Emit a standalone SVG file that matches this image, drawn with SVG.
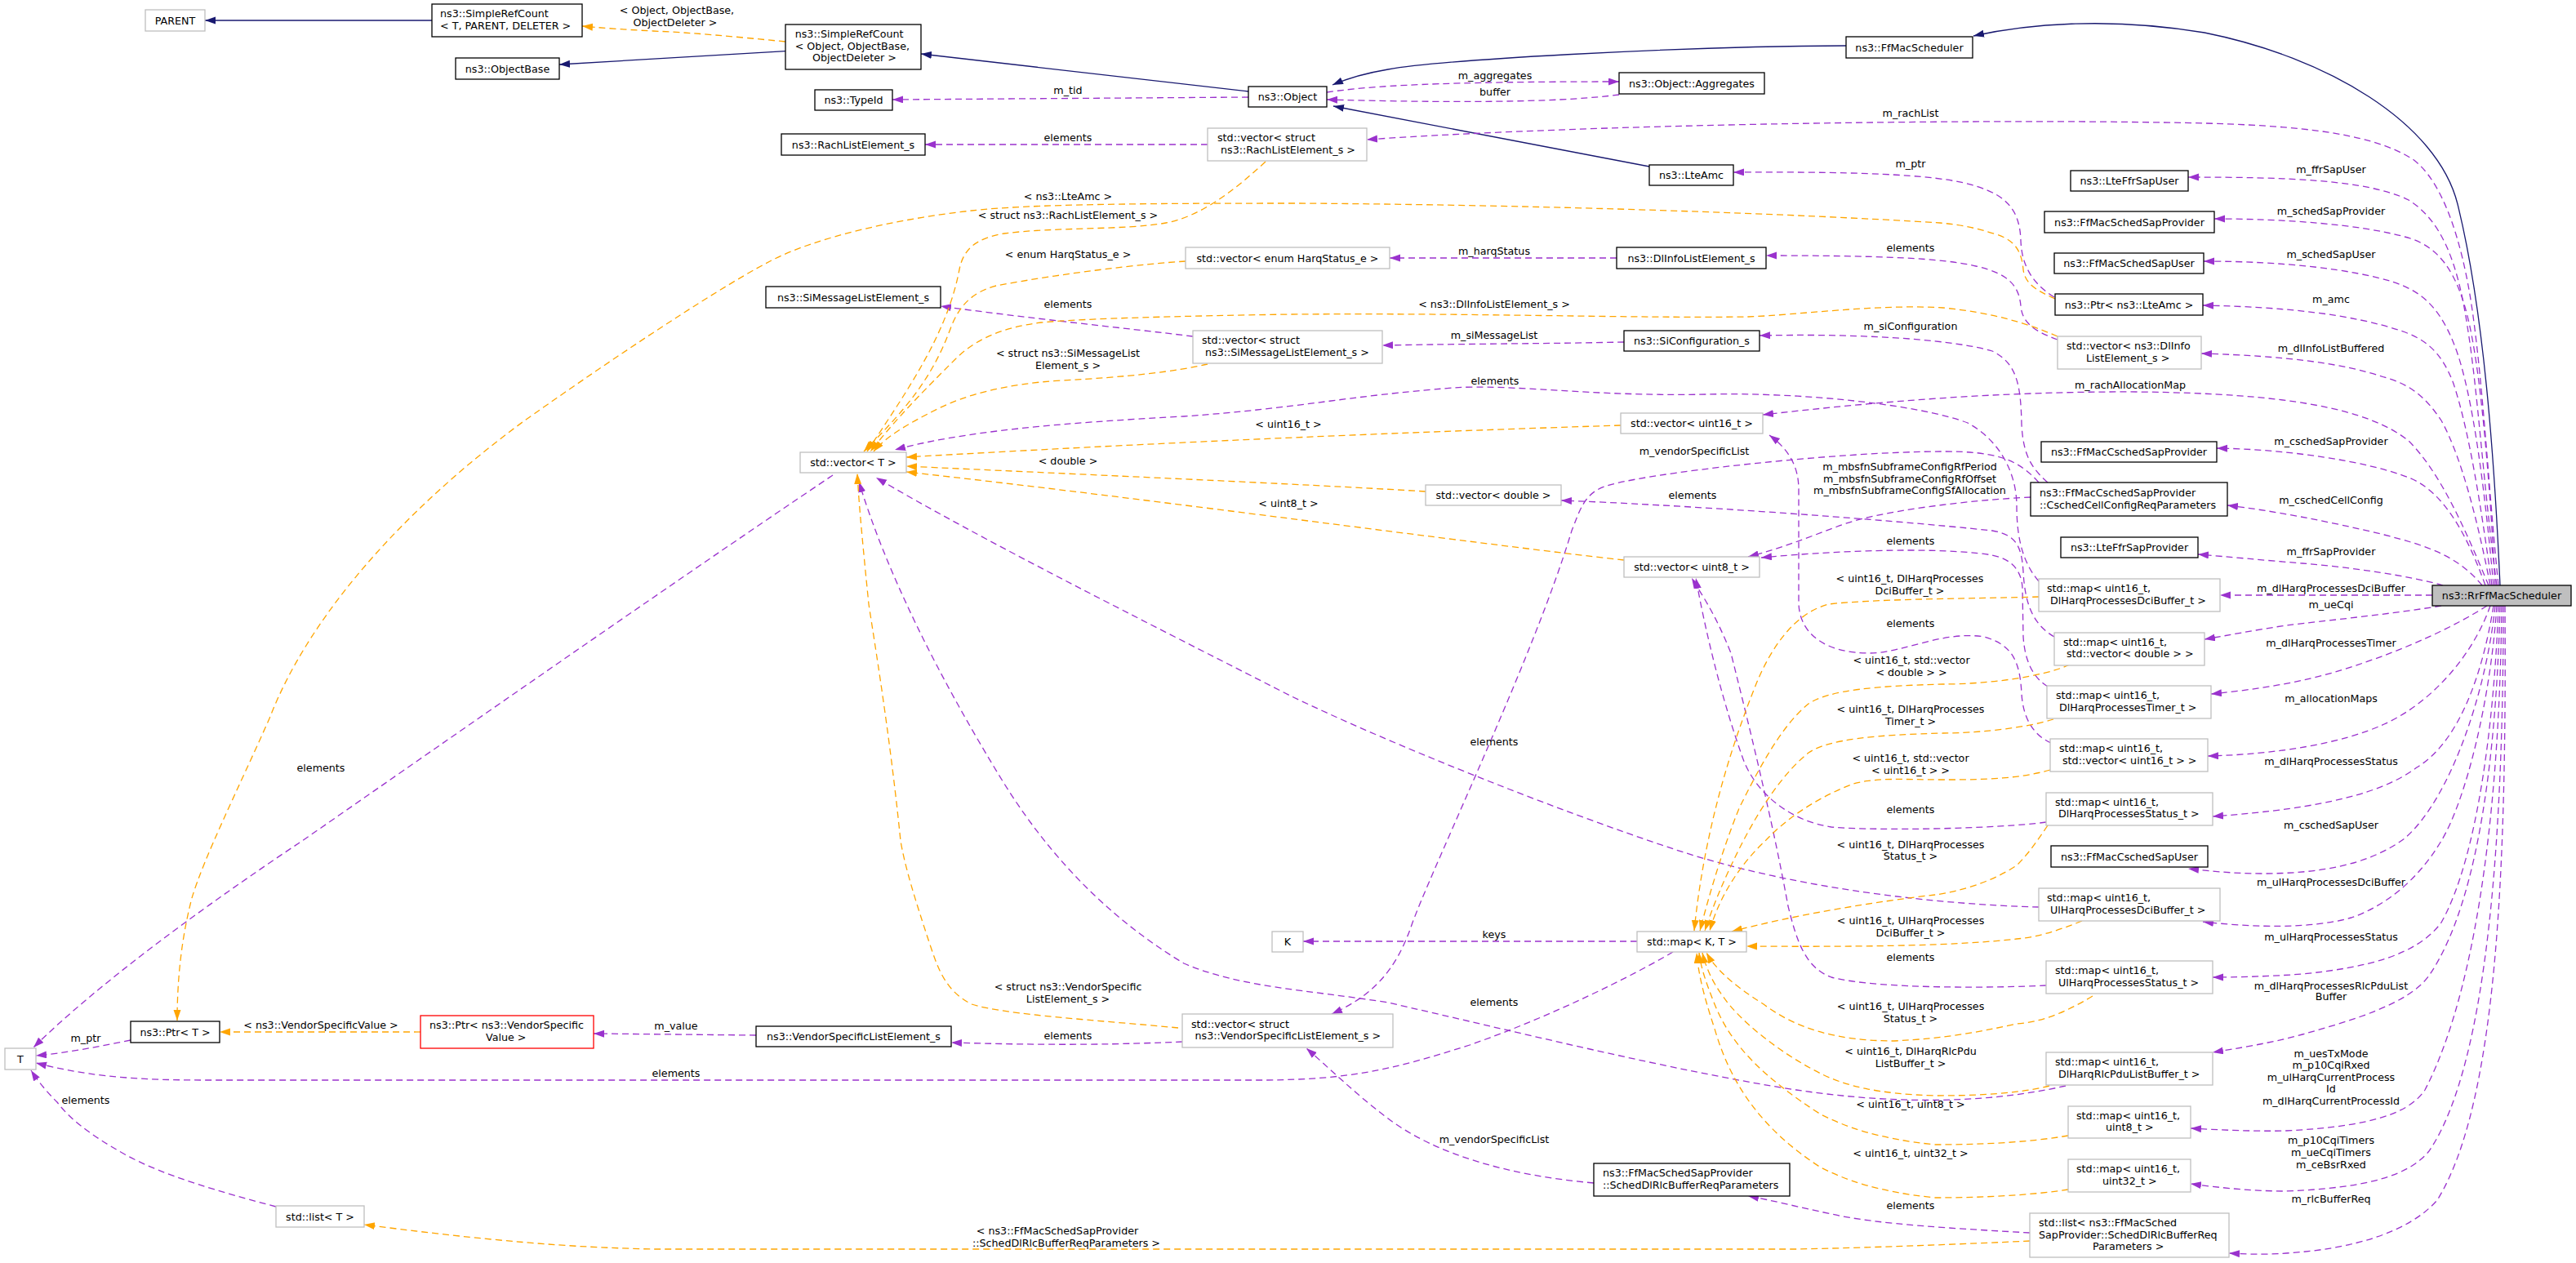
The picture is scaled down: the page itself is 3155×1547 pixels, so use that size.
<svg xmlns="http://www.w3.org/2000/svg" width="3155" height="1547" viewBox="0 0 3155 1547">
<style>
text{font-family:"DejaVu Sans",sans-serif;font-size:12.7px;fill:#000}
.c{text-anchor:middle}
.nb{fill:#fff;stroke:#000;stroke-width:1.3}
.ng{fill:#fff;stroke:#bfbfbf;stroke-width:1.3}
.nr{fill:#fff;stroke:#ff0000;stroke-width:1.3}
.nm{fill:#bfbfbf;stroke:#000;stroke-width:1.3}
.ei{fill:none;stroke:#191970;stroke-width:1.3;marker-end:url(#aN)}
.eu{fill:none;stroke:#9a32cd;stroke-width:1.3;stroke-dasharray:8,5;marker-end:url(#aP)}
.et{fill:none;stroke:#ffa500;stroke-width:1.3;stroke-dasharray:8,5;marker-end:url(#aO)}
</style>
<defs>
<marker id="aN" markerWidth="14" markerHeight="10" refX="13" refY="4.5" orient="auto" markerUnits="userSpaceOnUse"><path d="M0,0 L13,4.5 L0,9 z" fill="#191970"/></marker>
<marker id="aP" markerWidth="14" markerHeight="10" refX="13" refY="4.5" orient="auto" markerUnits="userSpaceOnUse"><path d="M0,0 L13,4.5 L0,9 z" fill="#9a32cd"/></marker>
<marker id="aO" markerWidth="14" markerHeight="10" refX="13" refY="4.5" orient="auto" markerUnits="userSpaceOnUse"><path d="M0,0 L13,4.5 L0,9 z" fill="#ffa500"/></marker>
</defs>
<rect width="3155" height="1547" fill="#fff"/>
<g id="edges">
<path class="ei" d="M529,25 L251,25"/>
<path class="ei" d="M962,62.7 L685,79"/>
<path class="ei" d="M1529,112 L1128,66"/>
<path class="ei" d="M2261,56 C2040,57 1760,74 1700,85 C1670,90 1648,97 1632,104"/>
<path class="ei" d="M2020,204 L1633,130"/>
<path class="ei" d="M3062,717 C3055,560 3042,380 3010,250 C2985,150 2850,70 2700,40 C2580,20 2480,30 2417,44"/>
<path class="eu" d="M1529,119 L1093,122"/>
<text class="c" x="1308" y="114.5">m_tid</text>
<path class="eu" d="M1625,113 C1680,105 1760,100 1983,100"/>
<text class="c" x="1831" y="97.2">m_aggregates</text>
<path class="eu" d="M1983,116 C1920,124 1820,127 1625,122"/>
<text class="c" x="1831" y="116.8">buffer</text>
<path class="eu" d="M1479,177 L1133,177"/>
<text class="c" x="1308" y="173.2">elements</text>
<path class="eu" d="M3060,717 C3048,600 3042,480 3028,380 C3015,290 2990,220 2955,195 C2900,160 2800,152 2650,150 C2400,146 1950,152 1674,171"/>
<text class="c" x="2340" y="142.8">m_rachList</text>
<path class="eu" d="M2516,364 C2485,345 2476,320 2475,295 C2474,260 2460,240 2420,228 C2380,215 2300,210 2123,211"/>
<text class="c" x="2340" y="204.5">m_ptr</text>
<path class="eu" d="M2520,416 C2490,405 2477,395 2475,375 C2473,350 2460,335 2420,326 C2380,316 2300,313 2163,313"/>
<text class="c" x="2340" y="307.5">elements</text>
<path class="eu" d="M2508,591 C2490,575 2478,560 2476,520 C2475,470 2470,445 2440,430 C2400,418 2300,408 2155,411"/>
<text class="c" x="2340" y="403.8">m_siConfiguration</text>
<path class="eu" d="M1989,419 C1900,421 1800,421 1693,423"/>
<text class="c" x="1830" y="415.2">m_siMessageList</text>
<path class="eu" d="M1980,316 L1702,316"/>
<text class="c" x="1830" y="311.8">m_harqStatus</text>
<path class="eu" d="M1461,412 C1380,402 1260,390 1152,375"/>
<text class="c" x="1308" y="377.2">elements</text>
<path class="eu" d="M3058,717 C3042,600 3035,480 3022,400 C3010,320 2990,270 2950,245 C2900,220 2800,217 2680,217"/>
<text class="c" x="2855" y="211.8">m_ffrSapUser</text>
<path class="eu" d="M3056,717 C3050,600 3040,470 3025,400 C3010,330 2985,300 2945,290 C2890,275 2800,268 2712,268"/>
<text class="c" x="2855" y="262.8">m_schedSapProvider</text>
<path class="eu" d="M3054,717 C3045,620 3030,480 3005,420 C2985,370 2960,355 2930,345 C2880,330 2800,320 2699,320"/>
<text class="c" x="2855" y="316.2">m_schedSapUser</text>
<path class="eu" d="M3052,717 C3040,630 3025,530 3005,470 C2990,430 2970,415 2940,405 C2880,385 2800,376 2698,374"/>
<text class="c" x="2855" y="371.2">m_amc</text>
<path class="eu" d="M3050,717 C3035,640 3015,560 2990,515 C2970,485 2950,470 2920,462 C2870,445 2800,436 2696,433"/>
<text class="c" x="2855" y="430.5">m_dlInfoListBuffered</text>
<path class="eu" d="M3048,717 C3020,650 2990,580 2950,540 C2900,500 2800,482 2620,480 C2450,479 2300,492 2159,508"/>
<text class="c" x="2609" y="476.2">m_rachAllocationMap</text>
<path class="eu" d="M3044,717 C3020,650 2990,600 2950,585 C2900,565 2800,550 2715,549"/>
<text class="c" x="2855" y="545.2">m_cschedSapProvider</text>
<path class="eu" d="M3040,717 C3010,680 2970,668 2920,655 C2850,638 2780,625 2728,619"/>
<text class="c" x="2855" y="617.2">m_cschedCellConfig</text>
<path class="eu" d="M2992,717 C2950,705 2880,695 2820,690 C2770,686 2730,682 2692,679"/>
<text class="c" x="2855" y="680.2">m_ffrSapProvider</text>
<path class="eu" d="M2979,729 L2719,729"/>
<text class="c" x="2855" y="725.2">m_dlHarqProcessesDciBuffer</text>
<path class="eu" d="M2990,742 C2930,752 2850,760 2800,766 C2760,772 2730,778 2700,783"/>
<text class="c" x="2855" y="745.2">m_ueCqi</text>
<path class="eu" d="M3046,742 C3010,765 2950,795 2870,820 C2820,836 2760,845 2708,850"/>
<text class="c" x="2855" y="791.8">m_dlHarqProcessesTimer</text>
<path class="eu" d="M3050,742 C3030,800 2980,860 2920,887 C2870,910 2790,924 2704,926"/>
<text class="c" x="2855" y="860.2">m_allocationMaps</text>
<path class="eu" d="M3054,742 C3040,830 3010,910 2960,940 C2920,970 2850,990 2710,1000"/>
<text class="c" x="2855" y="937.2">m_dlHarqProcessesStatus</text>
<path class="eu" d="M3056,742 C3045,850 3000,980 2945,1027 C2900,1060 2840,1070 2770,1070 C2730,1070 2700,1066 2680,1064"/>
<text class="c" x="2855" y="1015.2">m_cschedSapUser</text>
<path class="eu" d="M3058,742 C3050,860 3020,980 2990,1030 C2960,1080 2920,1110 2880,1124 C2830,1138 2760,1136 2698,1129"/>
<text class="c" x="2855" y="1084.8">m_ulHarqProcessesDciBuffer</text>
<path class="eu" d="M3060,742 C3055,880 3035,1050 2990,1130 C2960,1170 2900,1185 2820,1193 C2780,1196 2740,1197 2710,1197"/>
<text class="c" x="2855" y="1152.2">m_ulHarqProcessesStatus</text>
<path class="eu" d="M3062,742 C3058,900 3040,1100 2975,1195 C2950,1230 2880,1250 2820,1267 C2780,1278 2740,1284 2710,1289"/>
<text class="c" x="2855" y="1211.5">m_dlHarqProcessesRlcPduList</text>
<text class="c" x="2855" y="1224.8">Buffer</text>
<path class="eu" d="M3064,742 C3062,950 3040,1200 2970,1335 C2950,1365 2900,1380 2800,1385 C2760,1386 2720,1384 2683,1382"/>
<text class="c" x="2855" y="1294.8">m_uesTxMode</text>
<text class="c" x="2855" y="1308.8">m_p10CqiRxed</text>
<text class="c" x="2855" y="1323.8">m_ulHarqCurrentProcess</text>
<text class="c" x="2855" y="1338.2">Id</text>
<text class="c" x="2855" y="1352.5">m_dlHarqCurrentProcessId</text>
<path class="eu" d="M3066,742 C3066,1000 3050,1300 2975,1410 C2950,1440 2900,1455 2800,1459 C2760,1459 2720,1455 2683,1450"/>
<text class="c" x="2855" y="1400.8">m_p10CqiTimers</text>
<text class="c" x="2855" y="1415.8">m_ueCqiTimers</text>
<text class="c" x="2855" y="1430.5">m_ceBsrRxed</text>
<path class="eu" d="M3068,742 C3070,1050 3060,1350 2985,1470 C2950,1510 2880,1530 2800,1535 C2770,1537 2750,1536 2730,1535"/>
<text class="c" x="2855" y="1473.2">m_rlcBufferReq</text>
<path class="eu" d="M1448,1276 C1380,1279 1300,1281 1165,1277"/>
<text class="c" x="1308" y="1272.8">elements</text>
<path class="eu" d="M926,1268 L727,1266"/>
<text class="c" x="828" y="1260.8">m_value</text>
<path class="eu" d="M160,1274 C120,1282 80,1290 44,1293"/>
<text class="c" x="105" y="1275.5">m_ptr</text>
<path class="eu" d="M2049,1166 C2000,1195 1900,1245 1800,1280 C1700,1312 1650,1322 1550,1323 L250,1323 C150,1323 100,1316 44,1302"/>
<text class="c" x="828" y="1318.8">elements</text>
<path class="eu" d="M338,1478 C270,1460 200,1440 153,1414 C110,1390 85,1370 70,1350 C55,1335 45,1322 38,1311"/>
<text class="c" x="105" y="1352.2">elements</text>
<path class="eu" d="M1020,582 C800,730 500,940 370,1030 C250,1110 120,1205 41,1283"/>
<text class="c" x="393" y="944.5">elements</text>
<path class="eu" d="M1952,1449 C1850,1440 1760,1415 1700,1370 C1660,1340 1630,1310 1600,1284"/>
<text class="c" x="1830" y="1399.8">m_vendorSpecificList</text>
<path class="eu" d="M2486,1510 C2400,1505 2300,1500 2243,1487 C2200,1478 2170,1470 2141,1465"/>
<text class="c" x="2340" y="1480.8">elements</text>
<path class="eu" d="M2005,1153 L1596,1153"/>
<text class="c" x="1830" y="1148.8">keys</text>
<path class="eu" d="M2497,591 C2470,560 2440,553 2380,553 C2250,553 2010,580 1965,596 C1940,605 1935,625 1925,650 C1880,800 1760,1050 1730,1130 C1710,1190 1680,1220 1631,1242"/>
<text class="c" x="2075" y="557.2">m_vendorSpecificList</text>
<path class="eu" d="M2487,609 C2420,612 2300,625 2250,645 C2210,660 2180,672 2141,682"/>
<text class="c" x="2339" y="576.2">m_mbsfnSubframeConfigRfPeriod</text>
<text class="c" x="2339" y="591.2">m_mbsfnSubframeConfigRfOffset</text>
<text class="c" x="2339" y="605.2">m_mbsfnSubframeConfigSfAllocation</text>
<path class="eu" d="M2516,780 C2490,765 2480,740 2478,700 C2476,670 2470,655 2440,650 C2300,635 2050,618 1912,613"/>
<text class="c" x="2073" y="611.2">elements</text>
<path class="eu" d="M2512,910 C2490,900 2478,880 2476,850 C2474,810 2465,790 2430,780 C2380,772 2330,800 2290,800 C2240,800 2205,780 2203,740 L2203,600 C2203,570 2190,550 2167,533"/>
<text class="c" x="2340" y="767.8">elements</text>
<path class="eu" d="M2508,841 C2490,830 2480,810 2478,780 L2477,720 C2476,700 2465,685 2440,680 C2400,673 2300,670 2157,683"/>
<text class="c" x="2340" y="667.2">elements</text>
<path class="eu" d="M2506,1007 C2450,1015 2300,1018 2243,1013 C2190,1005 2150,970 2135,930 C2110,860 2090,780 2077,708"/>
<text class="c" x="2340" y="996.2">elements</text>
<path class="eu" d="M2506,1207 C2450,1210 2300,1212 2243,1197 C2210,1185 2200,1150 2190,1110 C2170,1000 2140,880 2120,800 C2100,750 2085,730 2072,708"/>
<text class="c" x="2340" y="1177.2">elements</text>
<path class="eu" d="M2497,1111 C2380,1108 2200,1090 2050,1040 C1900,990 1700,910 1580,852 C1400,760 1200,660 1073,585"/>
<text class="c" x="1830" y="912.8">elements</text>
<path class="eu" d="M2530,1330 C2420,1355 2300,1350 2200,1335 C2050,1312 1850,1262 1700,1228 C1600,1212 1520,1210 1450,1180 C1350,1120 1280,1040 1230,960 C1150,830 1085,700 1052,590"/>
<text class="c" x="1830" y="1232.2">elements</text>
<path class="eu" d="M2497,712 C2478,690 2470,660 2470,620 C2470,580 2450,540 2410,518 C2350,495 2200,480 2090,483 C1950,486 1850,470 1780,475 C1650,485 1590,500 1450,510 C1300,518 1180,528 1096,551"/>
<text class="c" x="1831" y="471.2">elements</text>
<path class="et" d="M962,51 C900,45 850,40 800,38 C760,36 735,34 713,32"/>
<text class="c" x="829" y="16.8">&lt; Object, ObjectBase,</text>
<text class="c" x="827" y="31.8">ObjectDeleter &gt;</text>
<path class="et" d="M2517,366 C2495,356 2480,348 2478,330 C2476,310 2470,295 2445,287 C2420,279 2400,275 2376,273 C2200,262 1900,251 1590,249 C1400,249 1260,250 1190,258 C1100,268 1000,290 943,320 C870,358 720,460 640,517 C500,620 380,750 330,880 C290,970 250,1050 235,1100 C222,1150 217,1200 217,1250"/>
<text class="c" x="1308" y="244.5">&lt; ns3::LteAmc &gt;</text>
<path class="et" d="M1550,198 C1510,235 1470,265 1428,273 C1380,282 1290,278 1230,286 C1195,292 1180,305 1175,330 C1160,410 1110,480 1062,553"/>
<text class="c" x="1308" y="267.8">&lt; struct ns3::RachListElement_s &gt;</text>
<path class="et" d="M1452,320 C1400,323 1300,335 1220,350 C1190,358 1175,375 1165,400 C1140,470 1100,510 1058,553"/>
<text class="c" x="1308" y="316.2">&lt; enum HarqStatus_e &gt;</text>
<path class="et" d="M1479,446 C1440,455 1380,462 1300,466 C1230,470 1180,485 1150,500 C1110,520 1085,535 1070,553"/>
<text class="c" x="1308" y="437.2">&lt; struct ns3::SiMessageList</text>
<text class="c" x="1308" y="451.8">Element_s &gt;</text>
<path class="et" d="M2520,412 C2480,395 2440,383 2380,377 C2300,372 2200,386 2141,388 C2000,390 1800,383 1580,385 C1450,387 1330,390 1275,395 C1220,402 1190,420 1170,440 C1130,480 1100,510 1066,553"/>
<text class="c" x="1830" y="376.8">&lt; ns3::DlInfoListElement_s &gt;</text>
<path class="et" d="M1985,521 C1700,530 1400,543 1110,560"/>
<text class="c" x="1578" y="524">&lt; uint16_t &gt;</text>
<path class="et" d="M1746,602 C1600,593 1300,580 1110,571"/>
<text class="c" x="1308" y="568.8">&lt; double &gt;</text>
<path class="et" d="M1989,686 C1800,665 1400,610 1110,578"/>
<text class="c" x="1578" y="621.2">&lt; uint8_t &gt;</text>
<path class="et" d="M1443,1259 C1350,1250 1230,1243 1190,1230 C1160,1215 1150,1190 1140,1160 C1120,1100 1108,1060 1103,1030 C1090,900 1070,780 1064,740 C1058,680 1052,620 1050,580"/>
<text class="c" x="1308" y="1213.2">&lt; struct ns3::VendorSpecific</text>
<text class="c" x="1308" y="1228.2">ListElement_s &gt;</text>
<path class="et" d="M515,1264 L269,1264"/>
<text class="c" x="393" y="1259.8">&lt; ns3::VendorSpecificValue &gt;</text>
<path class="et" d="M2486,1520 C2400,1524 2300,1528 2200,1530 L800,1530 C700,1528 600,1520 446,1500"/>
<text class="c" x="1295" y="1512.2">&lt; ns3::FfMacSchedSapProvider</text>
<text class="c" x="1306" y="1527.2">::SchedDlRlcBufferReqParameters &gt;</text>
<path class="et" d="M2497,731 C2440,733 2300,733 2240,740 C2200,750 2170,790 2150,840 C2110,940 2085,1040 2075,1140"/>
<text class="c" x="2339" y="713.2">&lt; uint16_t, DlHarqProcesses</text>
<text class="c" x="2339" y="727.8">DciBuffer_t &gt;</text>
<path class="et" d="M2535,814 C2500,830 2430,838 2380,838 C2300,840 2240,845 2215,862 C2180,890 2150,950 2130,990 C2110,1040 2095,1090 2082,1140"/>
<text class="c" x="2341" y="812.8">&lt; uint16_t, std::vector</text>
<text class="c" x="2341" y="827.8">&lt; double &gt; &gt;</text>
<path class="et" d="M2515,881 C2480,892 2420,898 2380,898 C2300,900 2240,905 2215,922 C2180,950 2150,1000 2130,1040 C2110,1080 2098,1110 2088,1140"/>
<text class="c" x="2340" y="872.8">&lt; uint16_t, DlHarqProcesses</text>
<text class="c" x="2340" y="887.8">Timer_t &gt;</text>
<path class="et" d="M2511,943 C2470,955 2420,955 2380,955 C2330,955 2300,952 2270,960 C2230,975 2190,1000 2162,1030 C2130,1060 2105,1100 2094,1140"/>
<text class="c" x="2340" y="932.8">&lt; uint16_t, std::vector</text>
<text class="c" x="2340" y="947.8">&lt; uint16_t &gt; &gt;</text>
<path class="et" d="M2508,1011 C2495,1030 2485,1045 2470,1060 C2440,1080 2400,1092 2370,1096 C2300,1104 2200,1120 2121,1141"/>
<text class="c" x="2340" y="1038.8">&lt; uint16_t, DlHarqProcesses</text>
<text class="c" x="2340" y="1053.2">Status_t &gt;</text>
<path class="et" d="M2550,1128 C2520,1140 2495,1148 2470,1150 C2400,1158 2300,1160 2139,1159"/>
<text class="c" x="2340" y="1132.2">&lt; uint16_t, UlHarqProcesses</text>
<text class="c" x="2340" y="1147.2">DciBuffer_t &gt;</text>
<path class="et" d="M2563,1220 C2530,1240 2500,1252 2470,1254 C2420,1265 2380,1272 2320,1275 C2250,1275 2200,1260 2160,1230 C2120,1205 2100,1185 2090,1167"/>
<text class="c" x="2340" y="1237.2">&lt; uint16_t, UlHarqProcesses</text>
<text class="c" x="2340" y="1251.8">Status_t &gt;</text>
<path class="et" d="M2510,1330 C2470,1340 2420,1342 2370,1342 C2300,1340 2260,1330 2230,1315 C2180,1290 2130,1250 2110,1220 C2095,1200 2088,1180 2085,1167"/>
<text class="c" x="2340" y="1291.5">&lt; uint16_t, DlHarqRlcPdu</text>
<text class="c" x="2340" y="1306.5">ListBuffer_t &gt;</text>
<path class="et" d="M2533,1391 C2480,1400 2420,1402 2370,1402 C2300,1395 2260,1380 2230,1365 C2160,1320 2120,1280 2100,1230 C2090,1205 2083,1185 2081,1167"/>
<text class="c" x="2340" y="1356.5">&lt; uint16_t, uint8_t &gt;</text>
<path class="et" d="M2533,1457 C2480,1465 2420,1467 2370,1467 C2300,1460 2260,1445 2230,1430 C2160,1385 2120,1330 2100,1260 C2085,1215 2080,1190 2078,1167"/>
<text class="c" x="2340" y="1417.2">&lt; uint16_t, uint32_t &gt;</text>
</g>
<g id="n_parent"><rect class="ng" x="178" y="12" width="73" height="26"/><text class="c" x="214.5" y="29.5">PARENT</text></g>
<g id="n_srct"><rect class="nb" x="529" y="5" width="184" height="40"/><text x="539" y="21.2">ns3::SimpleRefCount</text><text x="539" y="36.2">&lt; T, PARENT, DELETER &gt;</text></g>
<g id="n_objectbase"><rect class="nb" x="558" y="71" width="127" height="26"/><text class="c" x="621.5" y="88.5">ns3::ObjectBase</text></g>
<g id="n_srcobj"><rect class="nb" x="962" y="30" width="166" height="55"/><text x="973.7" y="46.2">ns3::SimpleRefCount</text><text x="973.7" y="61.2">&lt; Object, ObjectBase,</text><text x="995" y="75.2">ObjectDeleter &gt;</text></g>
<g id="n_typeid"><rect class="nb" x="998" y="110" width="95" height="25"/><text class="c" x="1045.5" y="127">ns3::TypeId</text></g>
<g id="n_rachle"><rect class="nb" x="957" y="164" width="176" height="26"/><text class="c" x="1045" y="181.5">ns3::RachListElement_s</text></g>
<g id="n_object"><rect class="nb" x="1529" y="106" width="96" height="25"/><text class="c" x="1577" y="123">ns3::Object</text></g>
<g id="n_vecrach"><rect class="ng" x="1479" y="157" width="195" height="40"/><text x="1491" y="173.2">std::vector&lt; struct</text><text x="1495" y="187.8">ns3::RachListElement_s &gt;</text></g>
<g id="n_aggregates"><rect class="nb" x="1983" y="89" width="178" height="26"/><text class="c" x="2072" y="106.5">ns3::Object::Aggregates</text></g>
<g id="n_ffmacscheduler"><rect class="nb" x="2261" y="45" width="155" height="26"/><text class="c" x="2338.5" y="62.5">ns3::FfMacScheduler</text></g>
<g id="n_lteamc"><rect class="nb" x="2020" y="202" width="103" height="25"/><text class="c" x="2071.5" y="219">ns3::LteAmc</text></g>
<g id="n_lteffrsapuser"><rect class="nb" x="2536" y="209" width="144" height="25"/><text class="c" x="2608" y="226">ns3::LteFfrSapUser</text></g>
<g id="n_schedsapprovider"><rect class="nb" x="2504" y="259" width="208" height="26"/><text class="c" x="2608" y="276.5">ns3::FfMacSchedSapProvider</text></g>
<g id="n_schedsapuser"><rect class="nb" x="2516" y="310" width="183" height="25"/><text class="c" x="2607.5" y="327">ns3::FfMacSchedSapUser</text></g>
<g id="n_ptrlteamc"><rect class="nb" x="2517" y="360" width="181" height="26"/><text class="c" x="2607.5" y="377.5">ns3::Ptr&lt; ns3::LteAmc &gt;</text></g>
<g id="n_vecdlinfo"><rect class="ng" x="2520" y="412" width="176" height="40"/><text x="2531" y="427.8">std::vector&lt; ns3::DlInfo</text><text x="2555" y="442.8">ListElement_s &gt;</text></g>
<g id="n_vecharq"><rect class="ng" x="1452" y="303" width="250" height="26"/><text class="c" x="1577" y="320.5">std::vector&lt; enum HarqStatus_e &gt;</text></g>
<g id="n_dlinfole"><rect class="nb" x="1980" y="303" width="183" height="26"/><text class="c" x="2071.5" y="320.5">ns3::DlInfoListElement_s</text></g>
<g id="n_simsgle"><rect class="nb" x="938" y="351" width="214" height="26"/><text class="c" x="1045" y="368.5">ns3::SiMessageListElement_s</text></g>
<g id="n_vecsimsg"><rect class="ng" x="1461" y="405" width="232" height="40"/><text x="1472" y="421.2">std::vector&lt; struct</text><text x="1476" y="436.2">ns3::SiMessageListElement_s &gt;</text></g>
<g id="n_siconf"><rect class="nb" x="1989" y="405" width="166" height="25"/><text class="c" x="2072" y="422">ns3::SiConfiguration_s</text></g>
<g id="n_vecu16"><rect class="ng" x="1985" y="506" width="174" height="25"/><text class="c" x="2072" y="523">std::vector&lt; uint16_t &gt;</text></g>
<g id="n_vect"><rect class="ng" x="980" y="554" width="130" height="25"/><text class="c" x="1045" y="571">std::vector&lt; T &gt;</text></g>
<g id="n_vecdouble"><rect class="ng" x="1746" y="594" width="166" height="25"/><text class="c" x="1829" y="611">std::vector&lt; double &gt;</text></g>
<g id="n_cschedparams"><rect class="nb" x="2487" y="591" width="241" height="41"/><text x="2498" y="607.8">ns3::FfMacCschedSapProvider</text><text x="2498" y="622.8">::CschedCellConfigReqParameters</text></g>
<g id="n_cschedprovider"><rect class="nb" x="2500" y="541" width="215" height="25"/><text class="c" x="2607.5" y="558">ns3::FfMacCschedSapProvider</text></g>
<g id="n_lteffrsapprovider"><rect class="nb" x="2524" y="658" width="168" height="25"/><text class="c" x="2608" y="675">ns3::LteFfrSapProvider</text></g>
<g id="n_vecu8"><rect class="ng" x="1989" y="682" width="166" height="25"/><text class="c" x="2072" y="699">std::vector&lt; uint8_t &gt;</text></g>
<g id="n_rr"><rect class="nm" x="2979" y="717" width="170" height="25"/><text class="c" x="3064" y="734">ns3::RrFfMacScheduler</text></g>
<g id="n_mapdci"><rect class="ng" x="2497" y="709" width="222" height="40"/><text x="2507" y="725.2">std::map&lt; uint16_t,</text><text x="2511" y="740.2">DlHarqProcessesDciBuffer_t &gt;</text></g>
<g id="n_mapvecdouble"><rect class="ng" x="2516" y="775" width="184" height="40"/><text x="2527" y="791.2">std::map&lt; uint16_t,</text><text x="2531" y="805.2">std::vector&lt; double &gt; &gt;</text></g>
<g id="n_maptimer"><rect class="ng" x="2507" y="840" width="201" height="40"/><text x="2518" y="856.2">std::map&lt; uint16_t,</text><text x="2522" y="871.2">DlHarqProcessesTimer_t &gt;</text></g>
<g id="n_mapvecu16"><rect class="ng" x="2511" y="905" width="193" height="40"/><text x="2522" y="921.2">std::map&lt; uint16_t,</text><text x="2526" y="936.2">std::vector&lt; uint16_t &gt; &gt;</text></g>
<g id="n_mapdlstatus"><rect class="ng" x="2506" y="971" width="204" height="40"/><text x="2517" y="987.2">std::map&lt; uint16_t,</text><text x="2521" y="1001.2">DlHarqProcessesStatus_t &gt;</text></g>
<g id="n_cschedsapuser"><rect class="nb" x="2512" y="1036" width="192" height="26"/><text class="c" x="2608" y="1053.5">ns3::FfMacCschedSapUser</text></g>
<g id="n_mapuldci"><rect class="ng" x="2497" y="1088" width="222" height="40"/><text x="2507" y="1104.2">std::map&lt; uint16_t,</text><text x="2511" y="1118.8">UlHarqProcessesDciBuffer_t &gt;</text></g>
<g id="n_mapulstatus"><rect class="ng" x="2506" y="1177" width="204" height="40"/><text x="2517" y="1193.2">std::map&lt; uint16_t,</text><text x="2521" y="1208.2">UlHarqProcessesStatus_t &gt;</text></g>
<g id="n_maprlc"><rect class="ng" x="2506" y="1289" width="204" height="40"/><text x="2517" y="1304.8">std::map&lt; uint16_t,</text><text x="2521" y="1319.8">DlHarqRlcPduListBuffer_t &gt;</text></g>
<g id="n_mapu8"><rect class="ng" x="2533" y="1355" width="150" height="39"/><text x="2543" y="1370.8">std::map&lt; uint16_t,</text><text x="2579" y="1384.8">uint8_t &gt;</text></g>
<g id="n_mapu32"><rect class="ng" x="2533" y="1420" width="150" height="40"/><text x="2543" y="1435.8">std::map&lt; uint16_t,</text><text x="2575" y="1450.8">uint32_t &gt;</text></g>
<g id="n_listsched"><rect class="ng" x="2486" y="1486" width="244" height="54"/><text x="2497" y="1501.5">std::list&lt; ns3::FfMacSched</text><text x="2497" y="1516.5">SapProvider::SchedDlRlcBufferReq</text><text x="2563" y="1530.8">Parameters &gt;</text></g>
<g id="n_mapkt"><rect class="ng" x="2005" y="1141" width="134" height="25"/><text class="c" x="2072" y="1158">std::map&lt; K, T &gt;</text></g>
<g id="n_k"><rect class="ng" x="1558" y="1141" width="38" height="25"/><text class="c" x="1577" y="1158">K</text></g>
<g id="n_schedparams"><rect class="nb" x="1952" y="1425" width="240" height="40"/><text x="1963" y="1440.8">ns3::FfMacSchedSapProvider</text><text x="1963" y="1455.8">::SchedDlRlcBufferReqParameters</text></g>
<g id="n_vecvsle"><rect class="ng" x="1448" y="1242" width="258" height="41"/><text x="1459" y="1259.2">std::vector&lt; struct</text><text x="1463.5" y="1273.2">ns3::VendorSpecificListElement_s &gt;</text></g>
<g id="n_vsle"><rect class="nb" x="926" y="1257" width="239" height="25"/><text class="c" x="1045.5" y="1274">ns3::VendorSpecificListElement_s</text></g>
<g id="n_ptrvsv"><rect class="nr" x="515" y="1244" width="212" height="40"/><text x="526" y="1260.2">ns3::Ptr&lt; ns3::VendorSpecific</text><text x="595" y="1275.2">Value &gt;</text></g>
<g id="n_ptrt"><rect class="nb" x="160" y="1251" width="109" height="26"/><text class="c" x="214.5" y="1268.5">ns3::Ptr&lt; T &gt;</text></g>
<g id="n_t"><rect class="ng" x="6" y="1284" width="38" height="26"/><text class="c" x="25" y="1301.5">T</text></g>
<g id="n_listt"><rect class="ng" x="338" y="1477" width="108" height="26"/><text class="c" x="392" y="1494.5">std::list&lt; T &gt;</text></g>
</svg>
